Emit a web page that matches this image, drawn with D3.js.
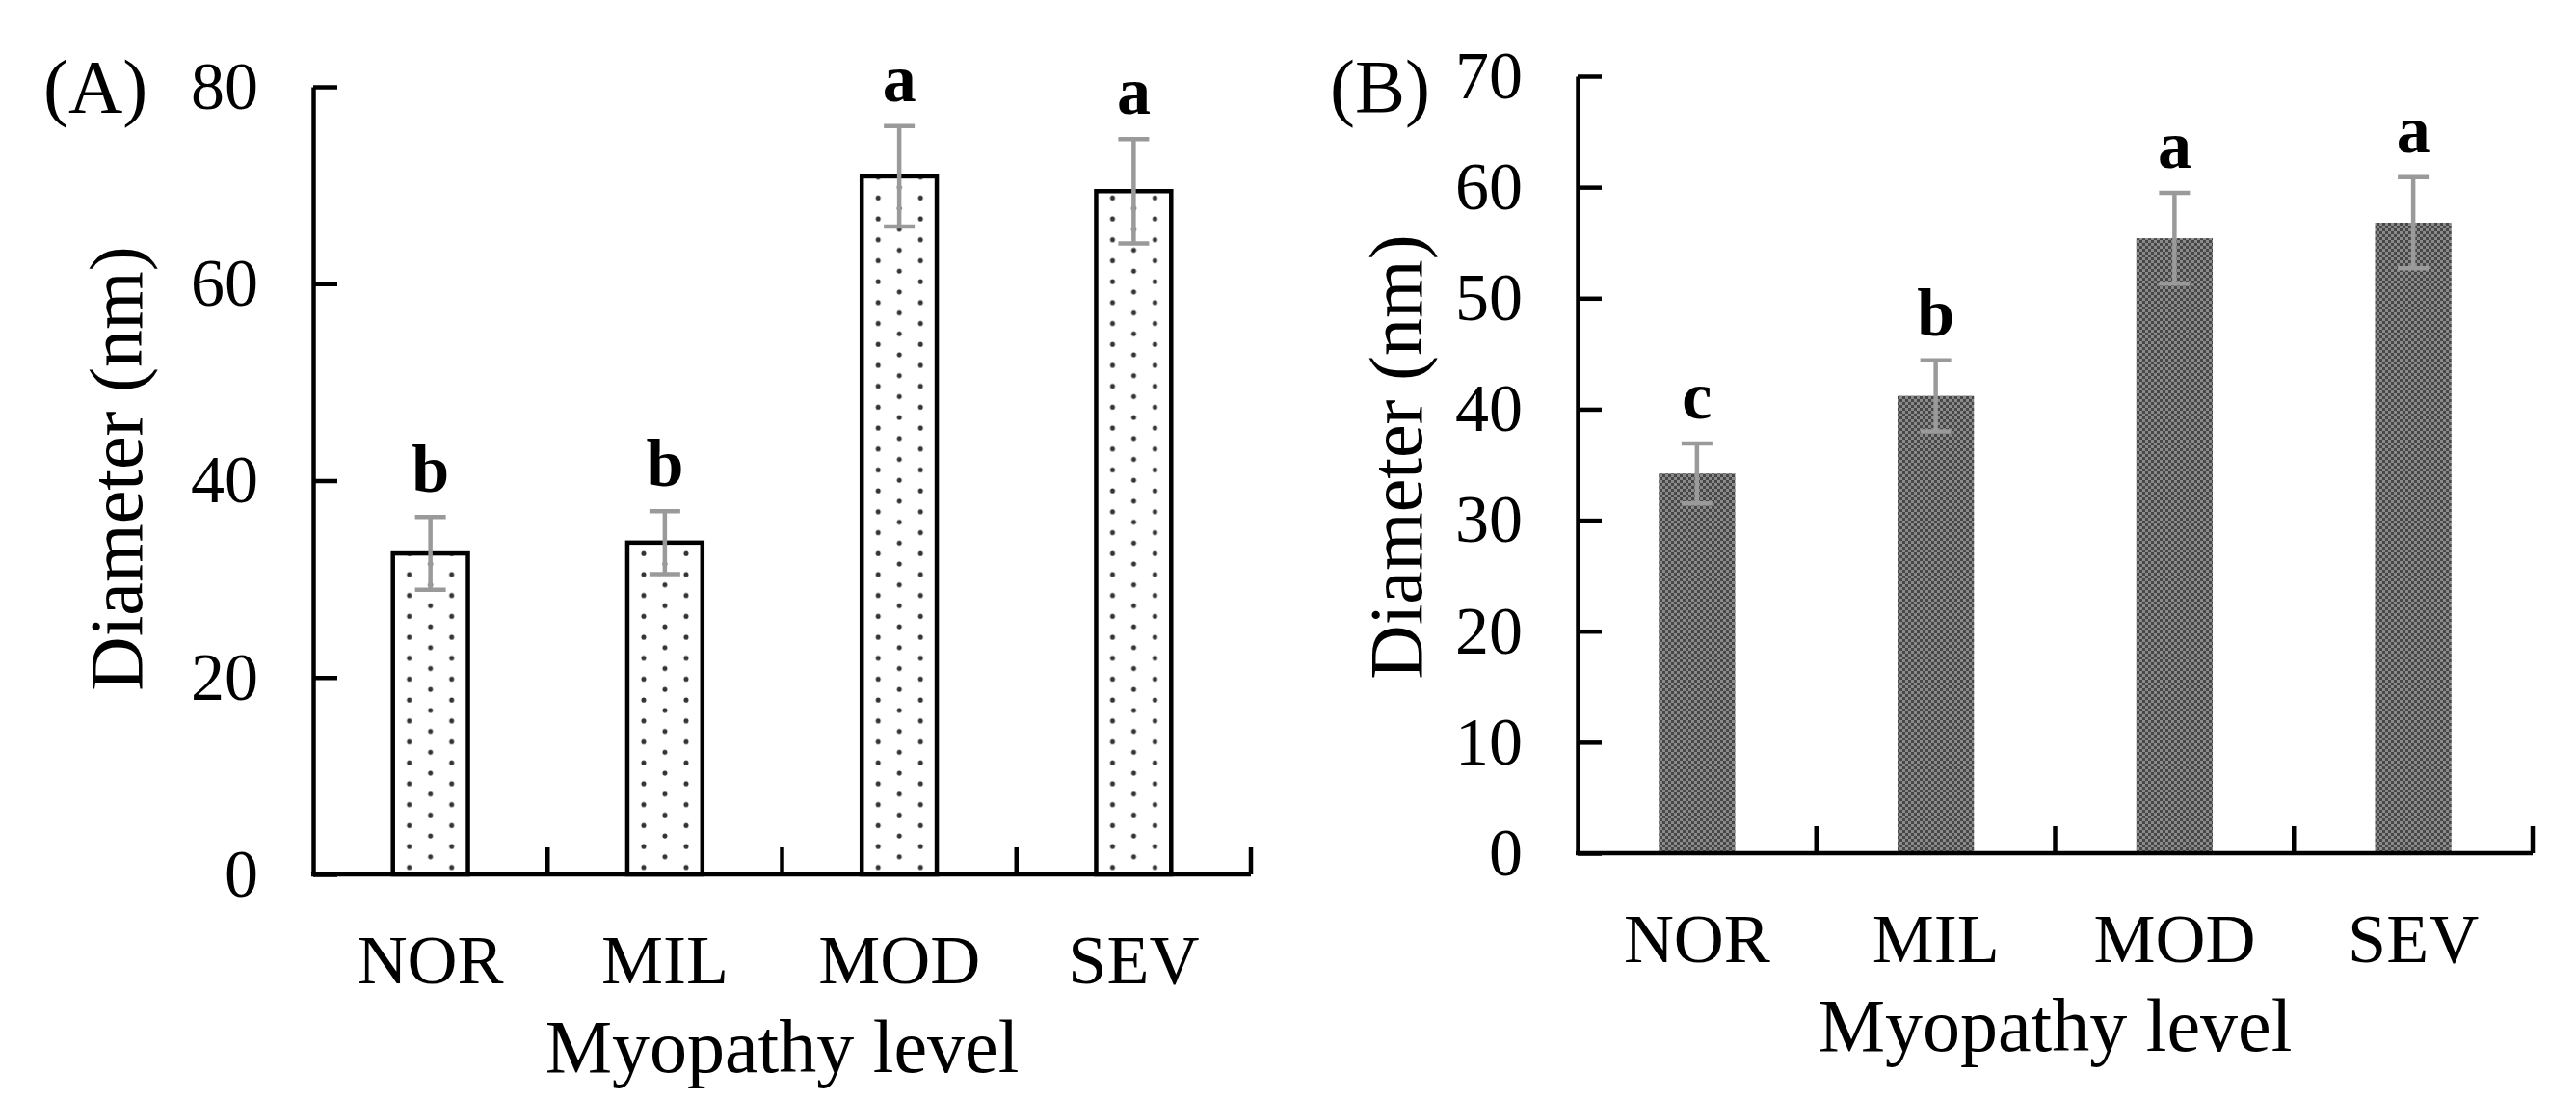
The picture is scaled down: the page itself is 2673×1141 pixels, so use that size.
<!DOCTYPE html>
<html>
<head>
<meta charset="utf-8">
<script src="https://cdn.jsdelivr.net/npm/d3@7.9.0/dist/d3.min.js"></script>
<style>
  body { margin: 0; background: #fff; }
  svg { display: block; font-family: 'Liberation Serif', 'Times New Roman', serif; }
</style>
</head>
<body>
<div id="chart"></div>
<script>
// ---- data ----
const levels = ['NOR', 'MIL', 'MOD', 'SEV'];

const meansA = [32.6, 33.7, 70.9, 69.4];
const errA = [3.7, 3.2, 5.1, 5.3];
const lettersA = ['b', 'b', 'a', 'a'];
const ticksA = [0, 20, 40, 60, 80];

const meansB = [34.2, 41.2, 55.4, 56.8];
const errB = [2.7, 3.2, 4.1, 4.1];
const lettersB = ['c', 'b', 'a', 'a'];
const ticksB = [0, 10, 20, 30, 40, 50, 60, 70];

const width = 2673;
const height = 1141;

const svg = d3.select('#chart')
  .append('svg')
  .attr('width', width)
  .attr('height', height);

const defs = svg.append('defs');

// dotted fill for panel A, one pattern per bar so the dot columns sit inside each bar
function dotPattern(id, x0) {
  const p = defs.append('pattern')
    .attr('id', id)
    .attr('patternUnits', 'userSpaceOnUse')
    .attr('x', x0)
    .attr('y', 0)
    .attr('width', 44)
    .attr('height', 21.7);
  p.append('rect').attr('width', 44).attr('height', 21.7).attr('fill', '#fff');
  p.append('circle').attr('cx', 0).attr('cy', 10).attr('r', 2.5).attr('fill', '#333');
  p.append('circle').attr('cx', 44).attr('cy', 10).attr('r', 2.5).attr('fill', '#333');
  p.append('circle').attr('cx', 22).attr('cy', 20.85).attr('r', 2.5).attr('fill', '#333');
  p.append('circle').attr('cx', 22).attr('cy', -0.85).attr('r', 2.5).attr('fill', '#333');
}

// fine dark checker for panel B
const chk = defs.append('pattern')
  .attr('id', 'checker')
  .attr('patternUnits', 'userSpaceOnUse')
  .attr('width', 6)
  .attr('height', 6);
chk.append('rect').attr('width', 6).attr('height', 6).attr('fill', '#474747');
chk.append('rect').attr('x', 0).attr('y', 0).attr('width', 3).attr('height', 3).attr('fill', '#8a8a8a');
chk.append('rect').attr('x', 3).attr('y', 3).attr('width', 3).attr('height', 3).attr('fill', '#8a8a8a');

function drawPanel(cfg) {
  const { left, right, top, bottom, maxY, ticks, means, errs, letters, fill, outline, tag, tagX, tagY, titleX, titleY } = cfg;

  const rows = levels.map((k, i) => ({ key: k, mean: means[i], err: errs[i], letter: letters[i] }));

  const x = d3.scaleBand()
    .domain(levels)
    .range([left, right])
    .paddingInner(0.68)
    .paddingOuter(0.34);

  const y = d3.scaleLinear().domain([0, maxY]).range([bottom, top]);

  const g = svg.append('g');

  // bars
  g.append('g')
    .selectAll('rect')
    .data(rows)
    .join('rect')
    .attr('x', d => x(d.key))
    .attr('y', d => y(d.mean))
    .attr('width', x.bandwidth())
    .attr('height', d => y(0) - y(d.mean))
    .attr('fill', (d, i) => fill(d, i, x))
    .attr('stroke', outline ? '#000' : 'none')
    .attr('stroke-width', 4.5);

  // error bars
  const eb = g.append('g')
    .attr('stroke', '#9a9a9a')
    .attr('stroke-width', 4.5)
    .selectAll('g')
    .data(rows)
    .join('g')
    .attr('transform', d => `translate(${x(d.key) + x.bandwidth() / 2},0)`);

  eb.append('line')
    .attr('y1', d => y(d.mean + d.err))
    .attr('y2', d => y(d.mean - d.err));
  eb.append('line')
    .attr('x1', -16).attr('x2', 16)
    .attr('y1', d => y(d.mean + d.err))
    .attr('y2', d => y(d.mean + d.err));
  eb.append('line')
    .attr('x1', -16).attr('x2', 16)
    .attr('y1', d => y(d.mean - d.err))
    .attr('y2', d => y(d.mean - d.err));

  // significance letters
  g.append('g')
    .selectAll('text')
    .data(rows)
    .join('text')
    .attr('x', d => x(d.key) + x.bandwidth() / 2)
    .attr('y', d => y(d.mean + d.err) - 26)
    .attr('text-anchor', 'middle')
    .attr('font-size', 70)
    .attr('font-weight', 'bold')
    .text(d => d.letter);

  // y axis, ticks pointing inward
  const yAxis = g.append('g')
    .attr('transform', `translate(${left},0)`)
    .call(d3.axisLeft(y).tickValues(ticks).tickSize(-25).tickSizeOuter(0).tickPadding(57));
  yAxis.select('.domain').attr('stroke-width', 4.5);
  yAxis.selectAll('.tick line').attr('stroke-width', 4.5);
  yAxis.selectAll('.tick text')
    .attr('font-size', 70)
    .attr('font-family', 'Liberation Serif')
    .attr('fill', '#000');

  // x axis with boundary ticks between the categories
  const xAxis = g.append('g')
    .attr('transform', `translate(0,${bottom})`)
    .call(d3.axisBottom(x).tickSize(0).tickSizeOuter(0));
  xAxis.select('.domain')
    .attr('d', `M${left - 2},0H${right}`)
    .attr('stroke-width', 4.5);
  xAxis.selectAll('.tick text')
    .attr('y', 113)
    .attr('dy', null)
    .attr('font-size', 72)
    .attr('font-family', 'Liberation Serif')
    .attr('fill', '#000');

  xAxis.append('g')
    .selectAll('line')
    .data(levels.slice(1).concat(['end']))
    .join('line')
    .attr('x1', (d, i) => left + (i + 1) * x.step())
    .attr('x2', (d, i) => left + (i + 1) * x.step())
    .attr('y1', 0)
    .attr('y2', -28)
    .attr('stroke', '#000')
    .attr('stroke-width', 4.5);

  // titles
  g.append('text')
    .attr('x', (left + right) / 2)
    .attr('y', bottom + 205)
    .attr('text-anchor', 'middle')
    .attr('font-size', 78)
    .text('Myopathy level');

  g.append('text')
    .attr('transform', `translate(${titleX},${titleY}) rotate(-90)`)
    .attr('text-anchor', 'middle')
    .attr('font-size', 78)
    .text('Diameter (nm)');

  g.append('text')
    .attr('x', tagX)
    .attr('y', tagY)
    .attr('font-size', 78)
    .text(tag);
}

// pattern ids for panel A bars
const xA = d3.scaleBand().domain(levels).range([325, 1298]).paddingInner(0.68).paddingOuter(0.34);
levels.forEach((k, i) => dotPattern('dots' + i, xA(k) + 17));

drawPanel({
  left: 325, right: 1298, top: 90, bottom: 907, maxY: 80,
  ticks: ticksA, means: meansA, errs: errA, letters: lettersA,
  fill: (d, i) => `url(#dots${i})`, outline: true,
  tag: '(A)', tagX: 45, tagY: 116, titleX: 147, titleY: 486
});

drawPanel({
  left: 1637, right: 2628, top: 79, bottom: 885, maxY: 70,
  ticks: ticksB, means: meansB, errs: errB, letters: lettersB,
  fill: () => 'url(#checker)', outline: false,
  tag: '(B)', tagX: 1380, tagY: 116, titleX: 1475, titleY: 474
});
</script>
</body>
</html>
